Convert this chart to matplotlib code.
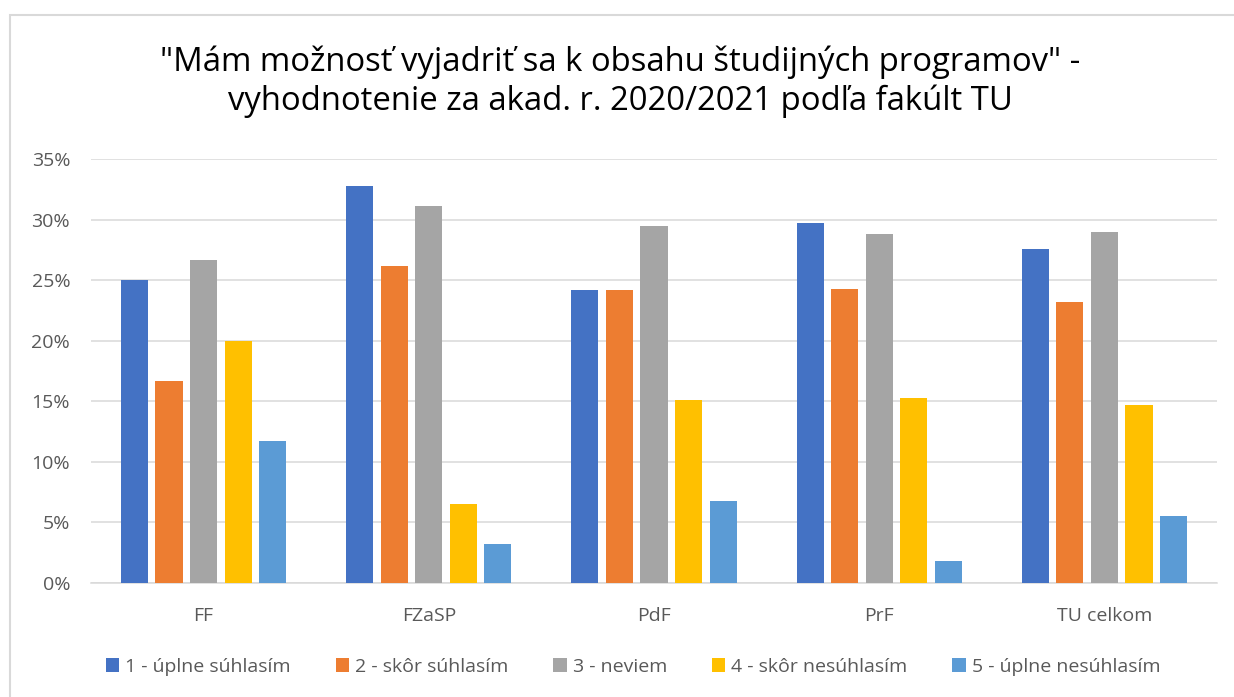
import numpy as np
import matplotlib
matplotlib.use("Agg")
import matplotlib.pyplot as plt
from matplotlib.patches import Rectangle
from matplotlib.ticker import MultipleLocator, PercentFormatter

# data
fakulty = ["FF", "FZaSP", "PdF", "PrF", "TU celkom"]
odpovede = ["1 - úplne súhlasím", "2 - skôr súhlasím", "3 - neviem",
            "4 - skôr nesúhlasím", "5 - úplne nesúhlasím"]
uplne_suhlasim = [25.0, 32.8, 24.2, 29.7, 27.6]
skor_suhlasim = [16.7, 26.2, 24.2, 24.3, 23.2]
neviem = [26.7, 31.1, 29.5, 28.8, 29.0]
skor_nesuhlasim = [20.0, 6.5, 15.1, 15.3, 14.7]
uplne_nesuhlasim = [11.7, 3.2, 6.8, 1.8, 5.5]

serie = [uplne_suhlasim, skor_suhlasim, neviem, skor_nesuhlasim, uplne_nesuhlasim]
farby = ["#4472C4", "#ED7D31", "#A5A5A5", "#FFC000", "#5B9BD5"]

plt.rcParams['font.family'] = ['Open Sans', 'DejaVu Sans']
sivy_text = "#595959"

fig = plt.figure(figsize=(12.34, 6.97), dpi=100)
ax = fig.add_axes([91/1234, 1 - 583/697, 1126/1234, 424/697])

# ramik okolo grafu (prava a spodna strana su orezane)
fig.patches.append(Rectangle((9.5/1234, -0.1), 1.2, 1 - 14.5/697 + 0.1,
                             transform=fig.transFigure, fill=False,
                             edgecolor="#D9D9D9", linewidth=1.5))

x = np.arange(len(fakulty))
krok = 0.1536
sirka = 0.12
for j, (hodnoty, farba, nazov) in enumerate(zip(serie, farby, odpovede)):
    ax.bar(x + (j - 2) * krok, np.array(hodnoty) / 100, width=sirka,
           color=farba, label=nazov, zorder=3)

ax.set_xlim(-0.5, len(fakulty) - 0.5)
ax.set_ylim(0, 0.35)
ax.yaxis.set_major_locator(MultipleLocator(0.05))
ax.yaxis.set_major_formatter(PercentFormatter(1.0, decimals=0))
ax.set_xticks(x)
ax.set_xticklabels(fakulty)
ax.grid(axis="y", color="#D9D9D9", linewidth=1.1, zorder=0)
for s in ["top", "right", "left"]:
    ax.spines[s].set_visible(False)
ax.spines["bottom"].set_color("#D9D9D9")
ax.spines["bottom"].set_linewidth(1.1)
ax.tick_params(axis="both", length=0, labelsize=14, labelcolor=sivy_text)
ax.tick_params(axis="y", pad=15)
ax.tick_params(axis="x", pad=17)

fig.text(0.5025, 1 - 82/697,
         "\"Mám možnosť vyjadriť sa k obsahu študijných programov\" -\n"
         "vyhodnotenie za akad. r. 2020/2021 podľa fakúlt TU",
         ha="center", va="center", fontsize=23.7, color="black", linespacing=1.2)

leg = fig.legend(loc="center", bbox_to_anchor=(633/1234, 1 - 667/697), ncol=5,
                 frameon=False, fontsize=14, handlelength=0.7, handleheight=0.7,
                 handletextpad=0.3, columnspacing=2.3)
for t in leg.get_texts():
    t.set_color(sivy_text)

fig.savefig("out.png", dpi=100)
